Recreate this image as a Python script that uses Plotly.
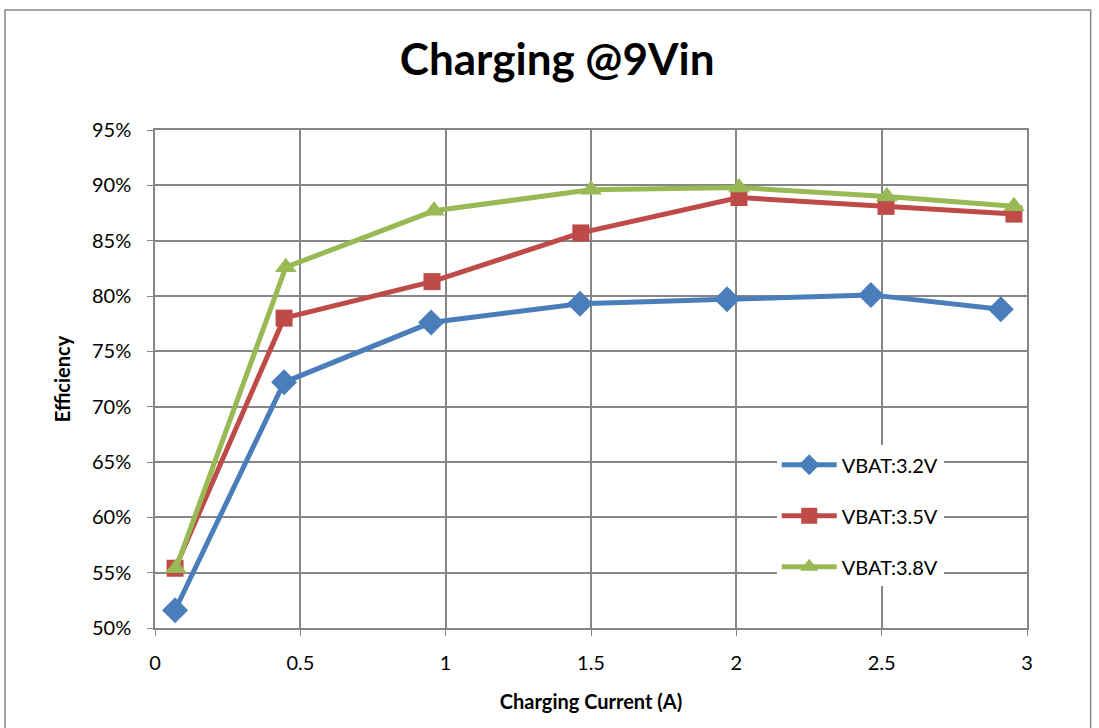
import plotly.graph_objects as go

# values
current_32 = [0.069, 0.444, 0.950, 1.462, 1.968, 2.463, 2.910]
eff_32 = [51.6, 72.2, 77.6, 79.3, 79.7, 80.1, 78.8]

current_35 = [0.069, 0.444, 0.953, 1.465, 2.009, 2.515, 2.955]
eff_35 = [55.4, 78.0, 81.3, 85.7, 88.9, 88.1, 87.4]

current_38 = [0.072, 0.450, 0.960, 1.500, 2.009, 2.518, 2.955]
eff_38 = [55.4, 82.6, 87.7, 89.6, 89.8, 89.0, 88.1]

x_ticks = [0, 0.5, 1, 1.5, 2, 2.5, 3]
x_tick_labels = ["0", "0.5", "1", "1.5", "2", "2.5", "3"]
y_ticks = [50, 55, 60, 65, 70, 75, 80, 85, 90, 95]
y_tick_labels = [f"{v}%" for v in y_ticks]

series = [
    ("VBAT:3.2V", current_32, eff_32, "#4a7ebb", "diamond", 20),
    ("VBAT:3.5V", current_35, eff_35, "#be4b48", "square", 17),
    ("VBAT:3.8V", current_38, eff_38, "#98b954", "triangle-up", 19),
]

FONT = "Lato, 'Open Sans', sans-serif"
GRID = "#868686"

fig = go.Figure()
for idx, (name, xs, ys, color, symbol, size) in enumerate(series):
    fig.add_trace(go.Scatter(
        x=xs, y=ys, name=name, mode="lines+markers",
        line=dict(color=color, width=5),
        marker=dict(symbol=symbol, size=size, color=color),
        legendgroup=f"g{idx}",
    ))

fig.update_layout(
    width=1099, height=728,
    margin=dict(l=155, r=72, t=130, b=100),
    paper_bgcolor="white", plot_bgcolor="white",
    font=dict(family=FONT, size=19, color="black"),
    title=dict(text="<b>Charging @9Vin</b>", x=0.507, xref="container",
               y=0.918, yref="container", yanchor="middle",
               font=dict(size=44, family=FONT)),
    showlegend=True,
    legend=dict(x=0.713, y=0.367, xanchor="left", yanchor="top",
                bgcolor="white", traceorder="grouped", tracegroupgap=22,
                font=dict(size=20), itemwidth=55),
)

fig.update_xaxes(
    range=[0, 3], tickvals=x_ticks, ticktext=x_tick_labels,
    showgrid=True, gridcolor=GRID, gridwidth=1.5,
    showline=True, linecolor=GRID, linewidth=1.5, mirror=True,
    ticks="outside", ticklen=6, tickcolor=GRID, ticklabelstandoff=10,
    zeroline=False, tickfont=dict(size=20),
    title=dict(text="<b>Charging Current (A)</b>", font=dict(size=20), standoff=22),
)
fig.update_yaxes(
    range=[50, 95], tickvals=y_ticks, ticktext=y_tick_labels,
    showgrid=True, gridcolor=GRID, gridwidth=1.5,
    showline=True, linecolor=GRID, linewidth=1.5, mirror=True,
    ticks="outside", ticklen=6, tickcolor=GRID, ticklabelstandoff=12,
    zeroline=False, tickfont=dict(size=20),
    title=dict(text="<b>Efficiency</b>", font=dict(size=20), standoff=16),
)

# outer chart border
fig.add_shape(type="rect", xref="paper", yref="paper",
              x0=-0.172, x1=1.073, y0=-0.3, y1=1.241,
              line=dict(color="#868686", width=1.5), layer="below")

fig.write_html("out.html", config={"displayModeBar": False},
               post_script="document.body.style.margin='0';")
